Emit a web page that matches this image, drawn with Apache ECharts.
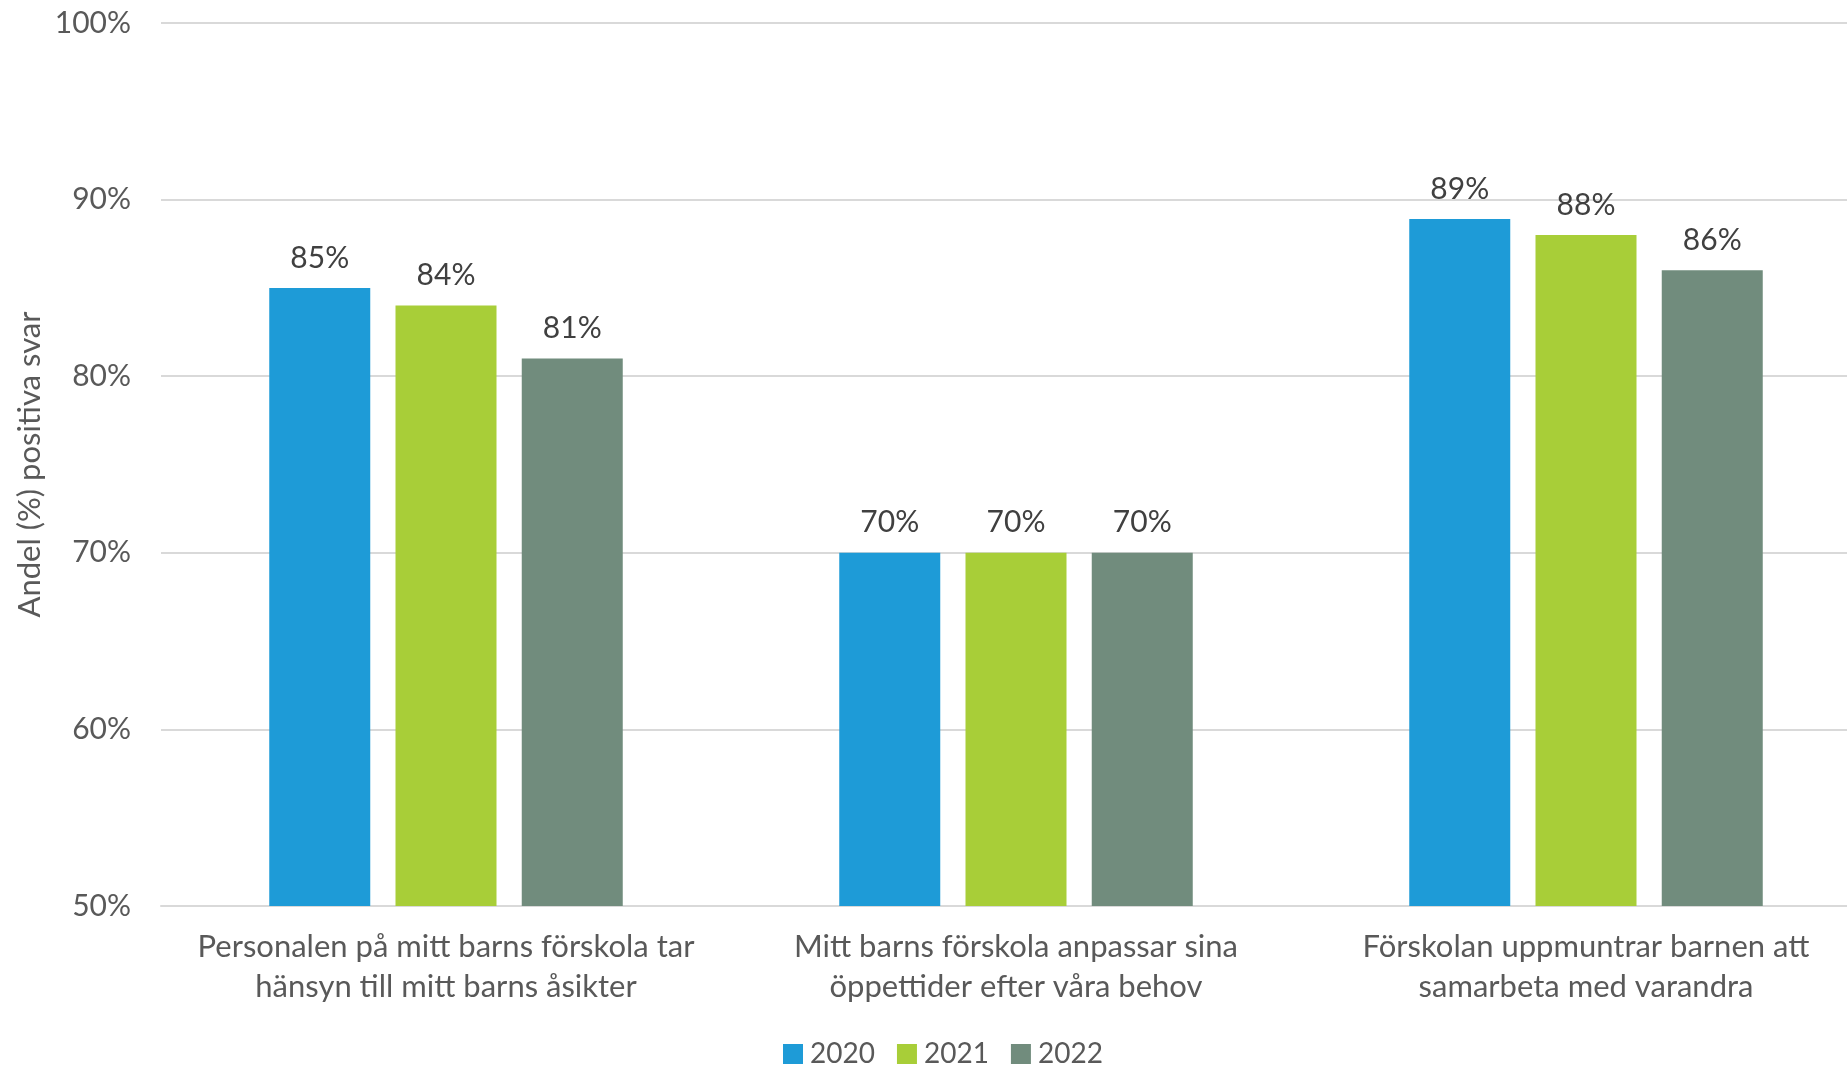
<!DOCTYPE html>
<html>
<head>
<meta charset="utf-8">
<script src="https://cdn.jsdelivr.net/npm/echarts@6/dist/echarts.min.js"></script>
<style>
html,body{margin:0;padding:0;background:#fff;}
#c{width:1847px;height:1066px;}
</style>
</head>
<body>
<div id="c"></div>
<script>
const categories = [
  "Personalen på mitt barns förskola tar\nhänsyn till mitt barns åsikter",
  "Mitt barns förskola anpassar sina\nöppettider efter våra behov",
  "Förskolan uppmuntrar barnen att\nsamarbeta med varandra"
];
const seriesNames = ["2020", "2021", "2022"];
const values2020 = [85, 70, 88.9];
const values2021 = [84, 70, 88];
const values2022 = [81, 70, 86];
const colors = ["#1E9BD7", "#A8CE38", "#718C7D"];
const yAxisName = "Andel (%) positiva svar";

const font = "Lato, 'Open Sans', sans-serif";
const allValues = [values2020, values2021, values2022];

const chart = echarts.init(document.getElementById('c'));
chart.setOption({
  animation: false,
  textStyle: { fontFamily: font },
  grid: { left: 161, width: 1710, top: 23, height: 883, containLabel: false, outerBoundsMode: 'none' },
  legend: {
    data: seriesNames,
    top: 1035,
    left: 778,
    itemWidth: 20,
    itemHeight: 20,
    itemGap: 22,
    icon: 'rect',
    textStyle: { fontSize: 28, color: '#595959', fontFamily: font, padding: [0, 0, 0, 2] }
  },
  xAxis: {
    type: 'category',
    data: categories,
    axisLine: { show: true, lineStyle: { color: '#d9d9d9', width: 2 } },
    axisTick: { show: false },
    axisLabel: {
      fontSize: 31,
      color: '#595959',
      lineHeight: 40,
      margin: 21,
      interval: 0,
      fontFamily: font
    }
  },
  yAxis: {
    type: 'value',
    min: 50,
    max: 100,
    interval: 10,
    name: yAxisName,
    nameLocation: 'middle',
    nameGap: 116,
    nameMoveOverlap: false,
    nameRotate: 90,
    nameTextStyle: { fontSize: 31, color: '#595959', fontFamily: font },
    axisLine: { show: false },
    axisTick: { show: false },
    splitLine: { lineStyle: { color: '#d9d9d9', width: 2 } },
    axisLabel: {
      fontSize: 30,
      color: '#595959',
      margin: 30,
      formatter: v => v + '%',
      fontFamily: font
    }
  },
  series: seriesNames.map((n, i) => ({
    name: n,
    type: 'bar',
    data: allValues[i],
    barWidth: 101,
    barGap: '25%',
    itemStyle: { color: colors[i] },
    label: {
      show: true,
      position: 'top',
      distance: 15,
      fontSize: 30,
      color: '#404040',
      fontFamily: font,
      formatter: p => Math.round(p.value) + '%'
    }
  }))
});
</script>
</body>
</html>
